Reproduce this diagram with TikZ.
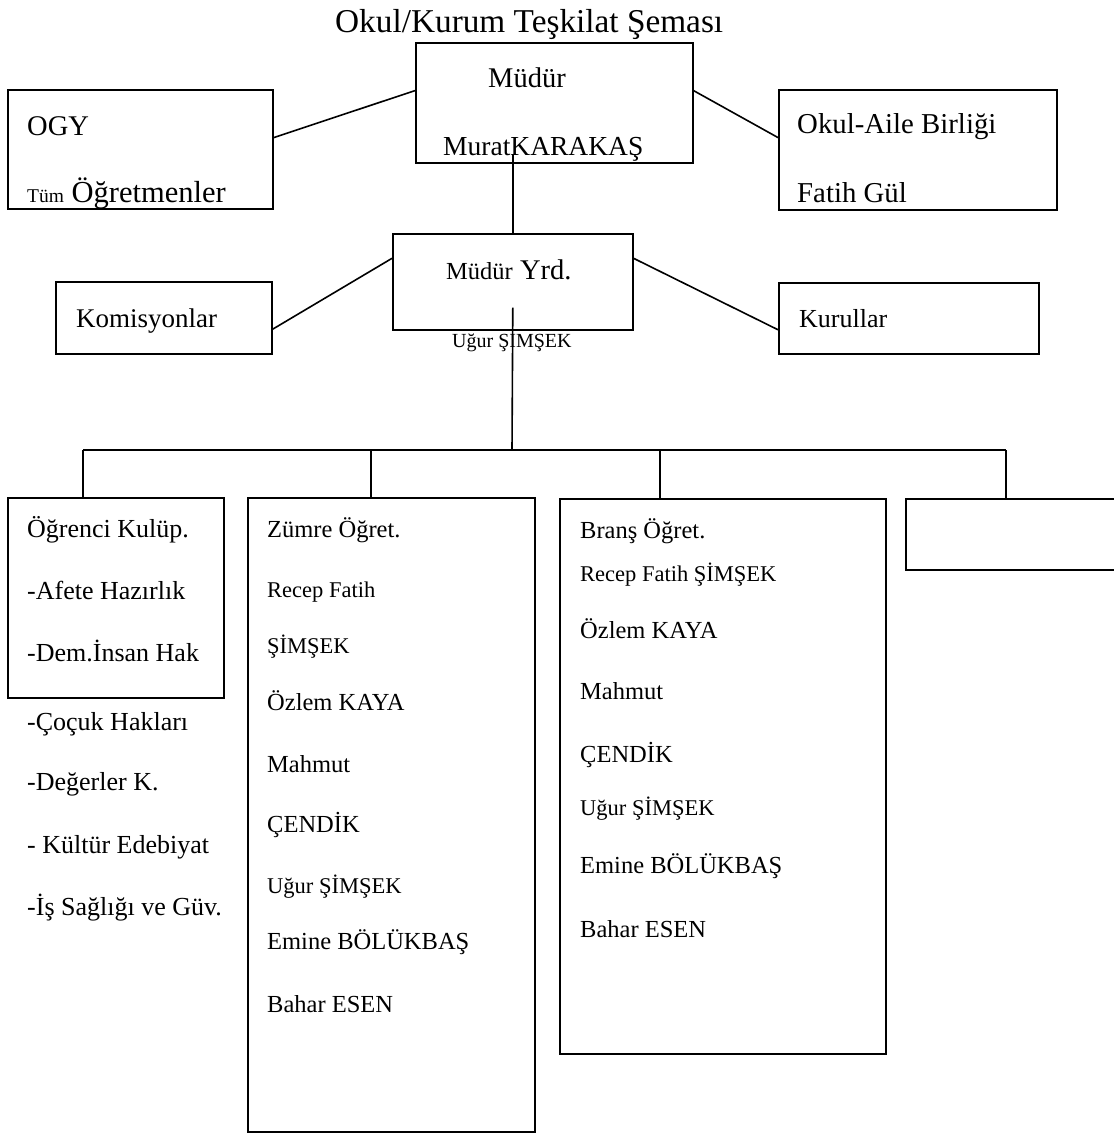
\documentclass[tikz,border=0pt]{standalone}
\usepackage{tikz}
\usepackage{fontspec}
\setmainfont{Liberation Serif}

\tikzset{
    box/.style={draw, line width=1.6pt, inner sep=0pt, anchor=north west},
    lbl/.style={anchor=base west, inner sep=0pt},
    txt/.style={lbl, font=\fontsize{24.5}{28}\selectfont},
    sm/.style={lbl, font=\fontsize{22.5}{25}\selectfont},
    club/.style={lbl, font=\fontsize{26}{30}\selectfont},
    con/.style={line width=1.6pt}
}

\begin{document}
\begin{tikzpicture}[x=1pt, y=-1pt]
        \useasboundingbox (0,0) rectangle (1114,1133);

        %title
        \node[lbl, font=\fontsize{33.3}{38}\selectfont] (title) at (335,32) {Okul/Kurum Teşkilat Şeması};

        %boxes
        \node[box, minimum width=277pt, minimum height=120pt] (mudur) at (415,42) {};
        \node[box, minimum width=265pt, minimum height=119pt] (ogy) at (7,89) {};
        \node[box, minimum width=278pt, minimum height=120pt] (aile) at (778,89) {};
        \node[box, minimum width=240pt, minimum height=96pt] (yrd) at (392,233) {};
        \node[box, minimum width=216pt, minimum height=72pt] (kom) at (55,281) {};
        \node[box, minimum width=260pt, minimum height=71pt] (kur) at (778,282) {};
        \node[box, minimum width=216pt, minimum height=200pt] (kulup) at (7,497) {};
        \node[box, minimum width=287pt, minimum height=634pt] (zumre) at (247,497) {};
        \node[box, minimum width=326pt, minimum height=555pt] (brans) at (559,498) {};
        \node[box, minimum width=225pt, minimum height=71pt] (bos) at (905,498) {};

        %texts
        \node[lbl, font=\fontsize{28.5}{30}\selectfont] (m1) at (488,87) {Müdür};
        \node[lbl, font=\fontsize{27.5}{30}\selectfont] (m2) at (443,155) {MuratKARAKAŞ};
        \node[lbl, font=\fontsize{28.5}{30}\selectfont] (o1) at (27,135) {OGY};
        \node[lbl, font=\fontsize{30.5}{32}\selectfont] (o2) at (27,202) {{\fontsize{19.5}{20}\selectfont Tüm} Öğretmenler};
        \node[lbl, font=\fontsize{28.8}{30}\selectfont] (a1) at (797,133) {Okul-Aile Birliği};
        \node[lbl, font=\fontsize{28.8}{30}\selectfont] (a2) at (797,202) {Fatih Gül};
        \node[lbl, font=\fontsize{28.5}{30}\selectfont] (y1) at (446,279) {{\fontsize{24.5}{26}\selectfont Müdür} Yrd.};
        \node[lbl, font=\fontsize{20}{22}\selectfont] (y2) at (452,347) {Uğur ŞIMŞEK};
        \node[lbl, font=\fontsize{27}{30}\selectfont] (k1) at (76,327) {Komisyonlar};
        \node[lbl, font=\fontsize{26}{30}\selectfont] (k2) at (799,327) {Kurullar};

        \node[club] (c1) at (27,537) {Öğrenci Kulüp.};
        \node[club] (c2) at (27,599) {-Afete Hazırlık};
        \node[club] (c3) at (27,661) {-Dem.İnsan Hak};
        \node[club] (c4) at (27,730) {-Çoçuk Hakları};
        \node[club] (c5) at (27,790) {-Değerler K.};
        \node[club] (c6) at (27,853) {- Kültür Edebiyat};
        \node[club] (c7) at (27,915) {-İş Sağlığı ve Güv.};

        \node[txt] (z1) at (267,537) {Zümre Öğret.};
        \node[sm] (z2) at (267,597) {Recep Fatih};
        \node[sm] (z3) at (267,653) {ŞİMŞEK};
        \node[txt] (z4) at (267,710) {Özlem KAYA};
        \node[txt] (z5) at (267,772) {Mahmut};
        \node[txt] (z6) at (267,832) {ÇENDİK};
        \node[sm] (z7) at (267,893) {Uğur ŞİMŞEK};
        \node[txt] (z8) at (267,949) {Emine BÖLÜKBAŞ};
        \node[txt] (z9) at (267,1012) {Bahar ESEN};

        \node[txt] (b1) at (580,538) {Branş Öğret.};
        \node[sm] (b2) at (580,581) {Recep Fatih ŞİMŞEK};
        \node[txt] (b3) at (580,638) {Özlem KAYA};
        \node[txt] (b4) at (580,699) {Mahmut};
        \node[txt] (b5) at (580,762) {ÇENDİK};
        \node[sm] (b6) at (580,815) {Uğur ŞİMŞEK};
        \node[txt] (b7) at (580,873) {Emine BÖLÜKBAŞ};
        \node[txt] (b8) at (580,937) {Bahar ESEN};

        %edges
        \draw[con] (ogy.5) -- (mudur.175);
        \draw[con] (mudur.5) -- (aile.175);
        \draw[con] ([yshift=10pt]mudur.south -| yrd.north) -- (yrd.north);
        \draw[con] (kom.-6) -- (yrd.169);
        \draw[con] (yrd.11) -- (kur.185);

        %bus
        \coordinate (bus) at (512,450);
        \coordinate (d1) at (83,450);
        \coordinate (d2) at (371,450);
        \coordinate (d3) at (660,450);
        \coordinate (d4) at (1006,450);
        \draw[con] ([yshift=23pt]yrd.south) -- (bus);
        \draw[con] (d1) -- (d4);
        \draw[con] (d1) -- (d1 |- kulup.north);
        \draw[con] (d2) -- (d2 |- zumre.north);
        \draw[con] (d3) -- (d3 |- brans.north);
        \draw[con] (d4) -- (d4 |- bos.north);
    \end{tikzpicture}
\end{document}
